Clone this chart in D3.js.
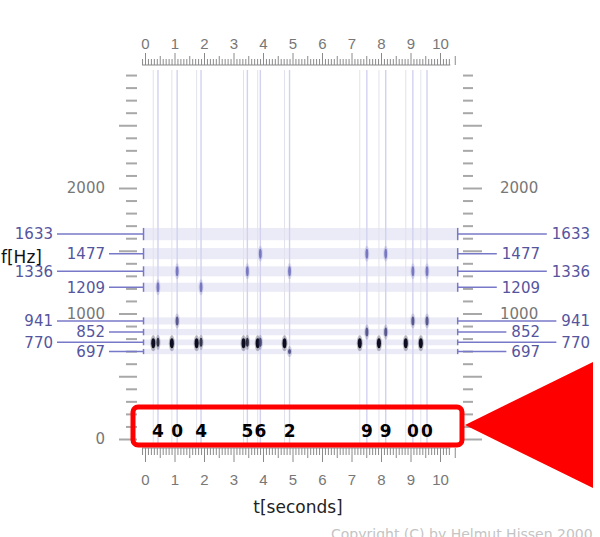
<!DOCTYPE html>
<html>
<head>
<meta charset="utf-8">
<script src="https://cdn.jsdelivr.net/npm/d3@7"></script>
<style>
  body { margin: 0; background: #fff; }
  svg { display: block; font-family: "DejaVu Sans", sans-serif; }
</style>
</head>
<body>
<div id="chart"></div>
<script>
// dialed digits and when the tone shows up (seconds)
var digits = ["4", "0", "4", "5", "6", "2", "9", "9", "0", "0"]
var toneTimes = [0.44, 1.09, 1.90, 3.47, 3.91, 4.90, 7.52, 8.16, 9.08, 9.56]
var clickTimes = [0.28, 0.91, 1.75, 3.34, 3.82, 4.73, 7.28, 7.93, 8.84, 9.35]
var toneLow = [770, 941, 770, 770, 770, 697, 852, 852, 941, 941]
var toneHigh = [1209, 1336, 1209, 1336, 1477, 1336, 1477, 1477, 1336, 1336]
var lowLevel = [0.9, 0.35, 0.85, 0.9, 0.5, 0.4, 0.35, 0.35, 0.35, 0.35]
var clickFreq = 762

// dtmf frequencies shown on both sides
var dtmfFreqs = [697, 770, 852, 941, 1209, 1336, 1477, 1633]
var grayLabels = [0, 1000, 2000]
var secondLabels = [0, 1, 2, 3, 4, 5, 6, 7, 8, 9, 10]

var width = 600, height = 537

var svg = d3.select("#chart").append("svg")
    .attr("width", width)
    .attr("height", height)

var defs = svg.append("defs")
defs.append("filter").attr("id", "soft")
    .attr("x", "-100%").attr("y", "-100%").attr("width", "300%").attr("height", "300%")
    .append("feGaussianBlur").attr("stdDeviation", 0.7)

var x = d3.scaleLinear().domain([0, 10]).range([145, 440])
var y = d3.scaleLinear().domain([0, 2000]).range([439, 188])

var bandLeft = x(-0.05), bandRight = x(10.6)
var bandTol = 0.03

var lineCol = "#7878c8"
var textCol = "#55559e"

// frequency bands
svg.selectAll(".band")
    .data(dtmfFreqs)
    .enter()
    .append("rect")
    .attr("x", bandLeft)
    .attr("width", bandRight - bandLeft)
    .attr("y", function (d) { return y(d * (1 + bandTol)) })
    .attr("height", function (d) { return y(d * (1 - bandTol)) - y(d * (1 + bandTol)) })
    .attr("fill", "#ebebf8")

// vertical time lines
svg.selectAll(".clickline")
    .data(clickTimes)
    .enter()
    .append("line")
    .attr("x1", function (d) { return x(d) })
    .attr("x2", function (d) { return x(d) })
    .attr("y1", 70)
    .attr("y2", 447)
    .attr("stroke", "#e2e2ec")
    .attr("stroke-width", 1)

svg.selectAll(".toneline")
    .data(toneTimes)
    .enter()
    .append("line")
    .attr("x1", function (d) { return x(d) })
    .attr("x2", function (d) { return x(d) })
    .attr("y1", 70)
    .attr("y2", 447)
    .attr("stroke", "#d2d2f0")
    .attr("stroke-width", 1.4)

// left / right frequency ticks
var fTicks = d3.range(0, 3000, 100)
var fMinor = fTicks.filter(function (d) { return d % 500 !== 0 })
var fMajor = fTicks.filter(function (d) { return d % 500 === 0 })

function styleTicks(g) {
    g.select(".domain").remove()
    g.selectAll("line").attr("stroke", "#a8a8a8").attr("stroke-width", 2)
}

svg.append("g").attr("transform", "translate(137,0)")
    .call(d3.axisLeft(y).tickValues(fMinor).tickSize(11).tickFormat(""))
    .call(styleTicks)
svg.append("g").attr("transform", "translate(137,0)")
    .call(d3.axisLeft(y).tickValues(fMajor).tickSize(18).tickFormat(""))
    .call(styleTicks)
svg.append("g").attr("transform", "translate(463,0)")
    .call(d3.axisRight(y).tickValues(fMinor).tickSize(10).tickFormat(""))
    .call(styleTicks)
svg.append("g").attr("transform", "translate(463,0)")
    .call(d3.axisRight(y).tickValues(fMajor).tickSize(19).tickFormat(""))
    .call(styleTicks)

// gray hz labels
svg.selectAll(".glab")
    .data(grayLabels)
    .enter()
    .append("text")
    .attr("x", 105)
    .attr("y", function (d) { return y(d) })
    .attr("dy", "0.36em")
    .attr("text-anchor", "end")
    .attr("fill", "#777")
    .style("font-size", "15px")
    .text(function (d) { return d })

svg.selectAll(".glabr")
    .data(grayLabels)
    .enter()
    .append("text")
    .attr("x", 500)
    .attr("y", function (d) { return y(d) })
    .attr("dy", "0.36em")
    .attr("fill", "#777")
    .style("font-size", "15px")
    .text(function (d) { return d })

// dtmf labels with leader lines
dtmfFreqs.forEach(function (f, i) {
    var outer = i % 2 === 1
    var yy = y(f)
    var lx = outer ? 53 : 105
    var rx = outer ? 590 : 540

    svg.append("text")
        .attr("x", lx).attr("y", yy).attr("dy", "0.36em")
        .attr("text-anchor", "end")
        .attr("fill", textCol)
        .style("font-size", "15px")
        .text(f)
    svg.append("line")
        .attr("x1", lx + 4).attr("x2", bandLeft)
        .attr("y1", yy).attr("y2", yy)
        .attr("stroke", lineCol).attr("stroke-width", 1.5)

    var t = svg.append("text")
        .attr("x", rx).attr("y", yy).attr("dy", "0.36em")
        .attr("text-anchor", "end")
        .attr("fill", textCol)
        .style("font-size", "15px")
        .text(f)
    var tw = t.node().getComputedTextLength()
    svg.append("line")
        .attr("x1", bandRight).attr("x2", rx - tw - 5)
        .attr("y1", yy).attr("y2", yy)
        .attr("stroke", lineCol).attr("stroke-width", 1.5)

    // end ticks spanning the band
    ;[bandLeft, bandRight].forEach(function (bx) {
        svg.append("line")
            .attr("x1", bx).attr("x2", bx)
            .attr("y1", y(f * (1 + bandTol))).attr("y2", y(f * (1 - bandTol)))
            .attr("stroke", lineCol).attr("stroke-width", 1.5)
    })
})

svg.append("text")
    .attr("x", 1).attr("y", 257).attr("dy", "0.36em")
    .attr("fill", "#111")
    .style("font-size", "17px")
    .text("f[Hz]")

// spectrogram marks
var marks = svg.append("g").attr("filter", "url(#soft)")

function blob(t, f, col, rx, ry, op) {
    marks.append("ellipse")
        .attr("cx", x(t)).attr("cy", y(f))
        .attr("rx", rx + 1).attr("ry", ry + 3)
        .attr("fill", col).attr("opacity", 0.25 * op)
    marks.append("ellipse")
        .attr("cx", x(t)).attr("cy", y(f))
        .attr("rx", rx).attr("ry", ry)
        .attr("fill", col).attr("opacity", op)
}

var blue = "#6464b8", dark = "#101020"
clickTimes.forEach(function (t) {
    blob(t, clickFreq, dark, 2, 5, 1)
})
toneTimes.forEach(function (t, i) {
    blob(t, toneHigh[i], blue, 1.4, 5, 0.8)
    blob(t, toneLow[i], d3.interpolateRgb(blue, dark)(lowLevel[i]), 1.5, toneLow[i] === 697 ? 2.5 : 4.5, 0.85)
})

// time rulers
var tMinor = d3.range(-1, 104).map(function (d) { return d / 10 })
    .filter(function (d) { return Math.round(d * 10) % 5 !== 0 })
var tHalf = d3.range(0, 11).map(function (d) { return d + 0.5 })
var tRule = [x(-0.1), x(10.35)]

function styleRuler(g) {
    g.select(".domain").remove()
    g.selectAll("line").attr("stroke", "#8a8a8a")
    g.selectAll("text").attr("fill", "#777").style("font-size", "15px")
}

var topG = svg.append("g").attr("transform", "translate(0,65)")
topG.append("g").call(d3.axisTop(x).tickValues(tMinor).tickSize(6).tickFormat("")).call(styleRuler)
topG.append("g").call(d3.axisTop(x).tickValues(tHalf).tickSize(9).tickFormat("")).call(styleRuler)
topG.append("g").call(d3.axisTop(x).tickValues(secondLabels).tickSize(12).tickPadding(4).tickFormat(d3.format("d"))).call(styleRuler)
topG.append("line").attr("x1", tRule[0]).attr("x2", tRule[1]).attr("stroke", "#8a8a8a")

var botG = svg.append("g").attr("transform", "translate(0,448)")
botG.append("g").call(d3.axisBottom(x).tickValues(tMinor).tickSize(7).tickFormat("")).call(styleRuler)
botG.append("g").call(d3.axisBottom(x).tickValues(tHalf).tickSize(10).tickFormat("")).call(styleRuler)
botG.append("g").call(d3.axisBottom(x).tickValues(secondLabels).tickSize(14).tickPadding(12).tickFormat(d3.format("d"))).call(styleRuler)
botG.append("line").attr("x1", tRule[0]).attr("x2", tRule[1]).attr("stroke", "#8a8a8a")

svg.append("text")
    .attr("x", 298).attr("y", 507).attr("dy", "0.36em")
    .attr("text-anchor", "middle")
    .attr("fill", "#222")
    .style("font-size", "17px")
    .text("t[seconds]")

// digit labels
svg.selectAll(".digit")
    .data(digits)
    .enter()
    .append("text")
    .attr("x", function (d, i) { return x(toneTimes[i]) })
    .attr("y", 431)
    .attr("dy", "0.36em")
    .attr("text-anchor", "middle")
    .attr("fill", "#000")
    .style("font-size", "17px")
    .style("font-weight", "bold")
    .text(function (d) { return d })

// red highlight
svg.append("rect")
    .attr("x", 133).attr("y", 407)
    .attr("width", 329).attr("height", 38)
    .attr("rx", 5)
    .attr("fill", "none")
    .attr("stroke", "#ff0000")
    .attr("stroke-width", 5)

svg.append("path")
    .attr("d", "M465,425L593,362L593,488Z")
    .attr("fill", "#ff0000")

svg.append("text")
    .attr("x", 331).attr("y", 539)
    .attr("fill", "#c4c4c4")
    .style("font-size", "14px")
    .text("Copyright (C) by Helmut Hissen 2000")
</script>
</body>
</html>
